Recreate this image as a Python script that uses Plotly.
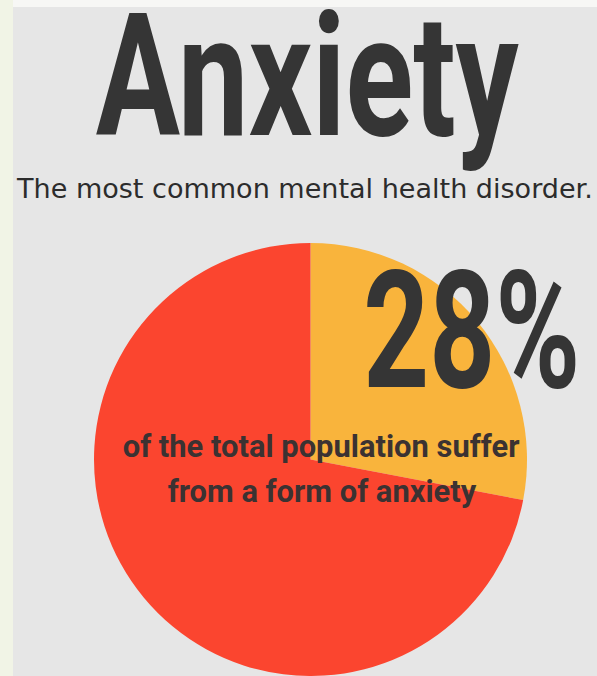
import json
import plotly.graph_objects as go

W, H = 597, 676

labels = ["Suffer from anxiety", "Others"]
values = [28, 72]
colors = ["#F9B43C", "#FB452F"]

title_text = "Anxiety"
subtitle_text = "The most common mental health disorder."
big_text = "28%"
body_lines = ["of the total population suffer", "from a form of anxiety"]

def px(x):
    return x / W

def py(y):
    return 1 - y / H

fig = go.Figure()
fig.add_trace(go.Pie(
    labels=labels, values=values, sort=False, direction="clockwise", rotation=0,
    marker=dict(colors=colors, line=dict(width=0)),
    textinfo="none", hoverinfo="skip", showlegend=False,
    domain=dict(x=[px(93), px(528)], y=[0, py(243)]),
))

cond = "Roboto, Liberation Sans, sans-serif"
dark = "#353535"

# (text, center x, center y, size, family, bold, color, target width)
texts = [
    (title_text, 307.5, 77, 171, cond, True, dark, 423),
    (subtitle_text, 304.5, 188.5, 26, "DejaVu Sans, Verdana, sans-serif", False, "#2c2c2c", 577),
    (big_text, 471.5, 331, 163, cond, True, dark, 217),
    (body_lines[0], 320.5, 446, 31, cond, True, "#3b3232", 397),
    (body_lines[1], 322.5, 491, 31, cond, True, "#3b3232", 309),
]
widths = []
for t, cx, cy, size, fam, bold, col, tw in texts:
    fig.add_annotation(text=("<b>%s</b>" % t) if bold else t, x=px(cx), y=py(cy),
                       xref="paper", yref="paper", showarrow=False,
                       xanchor="center", yanchor="middle",
                       font=dict(family=fam, size=size, color=col))
    widths.append(tw)

# light strips at the left and top edges of the original picture
fig.add_shape(type="rect", xref="paper", yref="paper", x0=0, x1=px(13), y0=0, y1=1,
              fillcolor="#F1F4E6", line=dict(width=0), layer="below")
fig.add_shape(type="rect", xref="paper", yref="paper", x0=px(13), x1=1, y0=py(7), y1=1,
              fillcolor="#F7F7F5", line=dict(width=0), layer="below")

fig.update_layout(width=W, height=H, margin=dict(l=0, r=0, t=0, b=0),
                  paper_bgcolor="#E6E6E6", plot_bgcolor="#E6E6E6")

post = """
document.body.style.margin='0';
var widths = %s;
var els = document.querySelectorAll('.annotation-text');
els.forEach(function(el, i){
  if (i >= widths.length) return;
  var b = el.getBBox();
  if (!b.width) return;
  var s = widths[i] / b.width;
  var cx = b.x + b.width / 2;
  el.setAttribute('transform', 'translate(' + cx + ',0) scale(' + s + ',1) translate(' + (-cx) + ',0)');
});
""" % json.dumps(widths)

fig.write_html("out.html", post_script=post, config={"displayModeBar": False})
